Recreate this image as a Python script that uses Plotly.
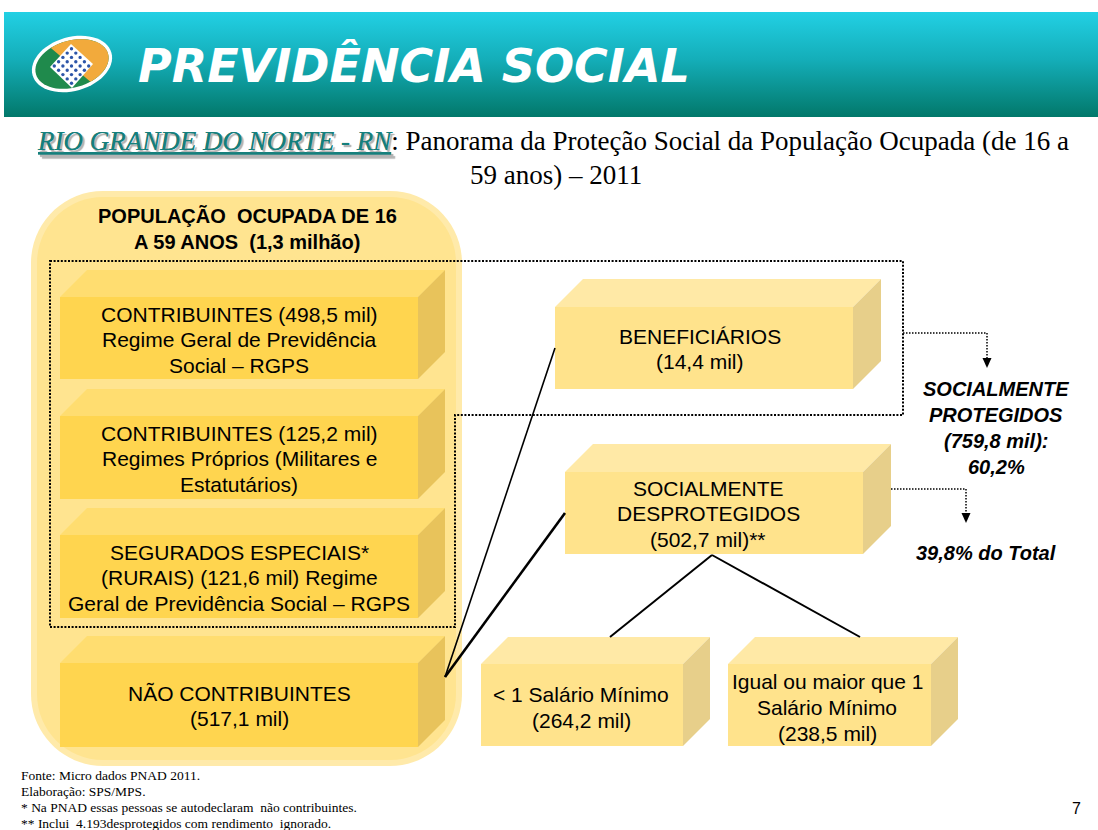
import math
import plotly.graph_objects as go

# ---------------- data ----------------
total_population = "1,3 milhão"
left_values = [498.5, 125.2, 121.6, 517.1]
left_lines = [
    ["CONTRIBUINTES ({v} mil)", "Regime Geral de Previdência", "Social – RGPS"],
    ["CONTRIBUINTES ({v} mil)", "Regimes Próprios (Militares e", "Estatutários)"],
    ["SEGURADOS ESPECIAIS*", "(RURAIS) ({v} mil) Regime", "Geral de Previdência Social – RGPS"],
    ["NÃO CONTRIBUINTES", "({v} mil)"],
]
right_values = [14.4, 502.7]
right_lines = [
    ["BENEFICIÁRIOS", "({v} mil)"],
    ["SOCIALMENTE", "DESPROTEGIDOS", "({v} mil)**"],
]
wage_values = [264.2, 238.5]
wage_lines = [
    ["&lt; 1 Salário Mínimo", "({v} mil)"],
    ["Igual ou maior que 1", "Salário Mínimo", "({v} mil)"],
]
protected_value = 759.8
protected_pct = 60.2
unprotected_pct = 39.8
footnotes = [
    "Fonte: Micro dados PNAD 2011.",
    "Elaboração: SPS/MPS.",
    "* Na PNAD essas pessoas se autodeclaram  não contribuintes.",
    "** Inclui  4.193desprotegidos com rendimento  ignorado.",
]
page_number = "7"


def fmt(v):
    return f"{v:.1f}".replace(".", ",")


# ---------------- layout constants ----------------
W, H = 1098, 830
SANS = "Liberation Sans, Arial, sans-serif"
SERIF = "Liberation Serif, Times New Roman, serif"

left_boxes = [(60, 297, 418, 379), (60, 416, 418, 499), (60, 535, 418, 618), (60, 663, 418, 747)]
left_text_pos = [(239, 314), (239, 433), (239, 552), (239, 693)]
right_boxes = [(555, 307, 853, 389), (565, 472, 863, 554)]
right_text_pos = [(700, 336), (708, 488)]
wage_boxes = [(481, 664, 683, 746), (728, 664, 931, 746)]
wage_text_pos = [(581, 694), (827, 681)]
LINE = 25.7
DEPTH = 27

LEFT_COL = dict(front="#FFD54F", top="#FFDD70", side="#E8C35B")
RIGHT_COL = dict(front="#FFE38C", top="#FFE9A6", side="#E7CF8A")

shapes = []
annotations = []


def add_box(b, col, d=DEPTH):
    x0, y0, x1, y1 = b
    shapes.append(dict(type="path", layer="above", line=dict(width=0), fillcolor=col["top"],
                       path=f"M{x0},{y0} L{x0+d},{y0-d} L{x1+d},{y0-d} L{x1},{y0} Z"))
    shapes.append(dict(type="path", layer="above", line=dict(width=0), fillcolor=col["side"],
                       path=f"M{x1},{y0} L{x1+d},{y0-d} L{x1+d},{y1-d} L{x1},{y1} Z"))
    shapes.append(dict(type="rect", layer="above", line=dict(width=0), fillcolor=col["front"],
                       x0=x0, y0=y0, x1=x1, y1=y1))


def add_lines(lines, x, y, size=21, bold=False, italic=False, spacing=LINE):
    for i, t in enumerate(lines):
        annotations.append(dict(x=x, y=y + i * spacing, text=t, showarrow=False,
                                xanchor="center", yanchor="middle",
                                font=dict(family=SANS, size=size, color="black",
                                          weight="bold" if bold else "normal",
                                          style="italic" if italic else "normal")))


def rounded_rect(x0, y0, x1, y1, r):
    k = 0.5523 * r
    return (f"M{x0+r},{y0} L{x1-r},{y0} C{x1-r+k},{y0} {x1},{y0+r-k} {x1},{y0+r} "
            f"L{x1},{y1-r} C{x1},{y1-r+k} {x1-r+k},{y1} {x1-r},{y1} "
            f"L{x0+r},{y1} C{x0+r-k},{y1} {x0},{y1-r+k} {x0},{y1-r} "
            f"L{x0},{y0+r} C{x0},{y0+r-k} {x0+r-k},{y0} {x0+r},{y0} Z")


def ellipse_pts(cx, cy, a, b, rot, t0, t1, n=60):
    pts = []
    for i in range(n + 1):
        t = math.radians(t0 + (t1 - t0) * i / n)
        x, y = a * math.cos(t), b * math.sin(t)
        c, s = math.cos(math.radians(rot)), math.sin(math.radians(rot))
        pts.append((cx + x * c - y * s, cy + x * s + y * c))
    return pts


def poly_path(pts):
    return "M" + " L".join(f"{x:.1f},{y:.1f}" for x, y in pts) + " Z"


# ---------------- panel ----------------
shapes.append(dict(type="path", layer="below", line=dict(width=0), fillcolor="#FFEAAA",
                   path=rounded_rect(31, 191, 462, 766, 72)))
shapes.append(dict(type="path", layer="below", line=dict(width=0), fillcolor="#FFE490",
                   path=rounded_rect(37, 197, 456, 760, 66)))

# dotted outline grouping the protected population
DOT = "2px,1.6px"
shapes.append(dict(type="path", layer="above", line=dict(color="black", width=2, dash=DOT),
                   path="M50,261 L903,261 L903,415 L455,415 L455,627 L50,627 Z"))

# boxes
for b in left_boxes:
    add_box(b, LEFT_COL)
for b in right_boxes:
    add_box(b, RIGHT_COL, 28)
for b in wage_boxes:
    add_box(b, RIGHT_COL, 27)

# connecting lines
shapes.append(dict(type="line", layer="above", x0=445, y0=677, x1=555, y1=348,
                   line=dict(color="black", width=1.6)))
shapes.append(dict(type="line", layer="above", x0=445, y0=677, x1=565, y1=513,
                   line=dict(color="black", width=2.6)))
shapes.append(dict(type="line", layer="above", x0=712, y0=555, x1=610, y1=637,
                   line=dict(color="black", width=2)))
shapes.append(dict(type="line", layer="above", x0=712, y0=555, x1=860, y1=637,
                   line=dict(color="black", width=2)))

# dotted arrows
shapes.append(dict(type="path", layer="above", line=dict(color="black", width=1.5, dash="1.5px,1.5px"),
                   path="M903,333 L987,333 L987,359"))
shapes.append(dict(type="path", layer="above", line=dict(width=0), fillcolor="black",
                   path="M982.5,358 L991.5,358 L987,368 Z"))
shapes.append(dict(type="path", layer="above", line=dict(color="black", width=1.5, dash="1.5px,1.5px"),
                   path="M891,489 L966,489 L966,514"))
shapes.append(dict(type="path", layer="above", line=dict(width=0), fillcolor="black",
                   path="M961.5,513 L970.5,513 L966,523 Z"))

# ---------------- logo ----------------
LCX, LCY, ROT = 72, 64, -16
shapes.append(dict(type="path", layer="above", line=dict(width=0), fillcolor="white",
                   path=poly_path(ellipse_pts(LCX, LCY, 41, 27, ROT, 0, 360))))
shapes.append(dict(type="path", layer="above", line=dict(width=0), fillcolor="#1F8A4C",
                   path=poly_path(ellipse_pts(LCX, LCY, 37.5, 23.5, ROT, 0, 360))))
shapes.append(dict(type="path", layer="above", line=dict(width=0), fillcolor="#F2AA3C",
                   path=poly_path(ellipse_pts(LCX, LCY, 37.5, 23.5, ROT, -115, 70))))
shapes.append(dict(type="path", layer="above", line=dict(width=0), fillcolor="white",
                   path="M71,44 L93,64 L72,88 L50,67 Z"))
for i in range(-2, 3):
    for j in range(-2, 3):
        dx = LCX - 0.5 + (i - j) * 4.3
        dy = LCY + 2 + (i + j) * 4.3
        shapes.append(dict(type="circle", layer="above", line=dict(width=0), fillcolor="#2C55A8",
                           x0=dx - 1.7, x1=dx + 1.7, y0=dy - 1.7, y1=dy + 1.7))

# ---------------- texts ----------------
annotations.append(dict(x=136, y=66, xanchor="left", yanchor="middle", showarrow=False,
                        text="PREVIDÊNCIA SOCIAL",
                        font=dict(family="DejaVu Sans", size=46, color="white",
                                  weight="bold", style="italic")))

title_head = "RIO GRANDE DO NORTE - RN"
title_rest = ": Panorama da Proteção Social da População Ocupada (de 16 a"
annotations.append(dict(
    x=35, y=141, xanchor="left", yanchor="middle", showarrow=False,
    text=(f"<span style='color:#157F7C;text-shadow:2px 2px 1px #B4B4B4'><i><u>{title_head}</u></i></span>"
          f"{title_rest}"),
    font=dict(family=SERIF, size=27, color="black")))
annotations.append(dict(x=556, y=175, xanchor="center", yanchor="middle", showarrow=False,
                        text="59 anos) – 2011",
                        font=dict(family=SERIF, size=27, color="black")))

add_lines(["POPULAÇÃO  OCUPADA DE 16", f"A 59 ANOS  ({total_population})"], 247, 216,
          size=20, bold=True, spacing=26)

for lines, v, (x, y) in zip(left_lines, left_values, left_text_pos):
    add_lines([t.format(v=fmt(v)) for t in lines], x, y)
for lines, v, (x, y) in zip(right_lines, right_values, right_text_pos):
    add_lines([t.format(v=fmt(v)) for t in lines], x, y, spacing=25.5)
for lines, v, (x, y) in zip(wage_lines, wage_values, wage_text_pos):
    add_lines([t.format(v=fmt(v)) for t in lines], x, y, spacing=26)

add_lines(["SOCIALMENTE", "PROTEGIDOS", f"({fmt(protected_value)} mil):", f"{fmt(protected_pct)}%"],
          996, 389, size=20, bold=True, italic=True, spacing=26)
add_lines([f"{fmt(unprotected_pct)}% do Total"], 986, 553, size=20, bold=True, italic=True)

for i, t in enumerate(footnotes):
    annotations.append(dict(x=19, y=775 + i * 16.2, xanchor="left", yanchor="middle", showarrow=False,
                            text=t, font=dict(family=SERIF, size=13.5, color="black")))
annotations.append(dict(x=1076, y=808, xanchor="center", yanchor="middle", showarrow=False,
                        text=page_number, font=dict(family=SANS, size=16, color="black")))

# ---------------- figure ----------------
fig = go.Figure()
# header band with vertical gradient
fig.add_trace(go.Scatter(
    x=[4, W, W, 4, 4], y=[12, 12, 117, 117, 12], mode="lines", fill="toself",
    line=dict(width=0), hoverinfo="skip", showlegend=False,
    fillgradient=dict(type="vertical", start=12, stop=117,
                      colorscale=[[0, "#22D0E4"], [0.45, "#14AEB9"], [1, "#02786A"]]),
))

fig.update_layout(
    width=W, height=H, margin=dict(l=0, r=0, t=0, b=0),
    paper_bgcolor="white", plot_bgcolor="white",
    xaxis=dict(range=[0, W], visible=False, fixedrange=True),
    yaxis=dict(range=[H, 0], visible=False, fixedrange=True),
    shapes=shapes, annotations=annotations, showlegend=False,
)

fig.write_html("out.html", config={"displayModeBar": False},
               post_script="document.body.style.margin='0';document.documentElement.style.overflow='hidden';")
